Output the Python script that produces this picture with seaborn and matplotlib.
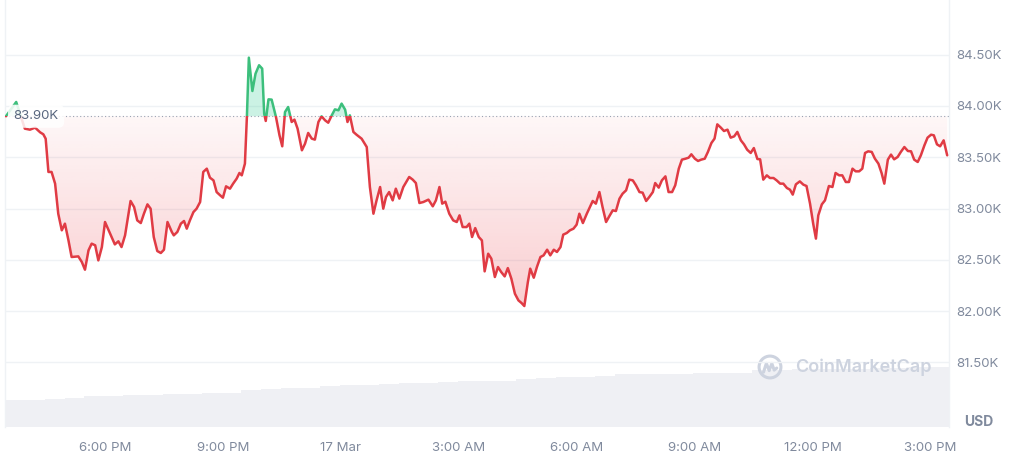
import numpy as np
import matplotlib
matplotlib.use("Agg")
import matplotlib.pyplot as plt
import seaborn as sns
from matplotlib.patches import Circle, Rectangle
from matplotlib.path import Path
from matplotlib.transforms import blended_transform_factory

# price series, hours counted from 16 Mar 00:00
hours = [15.48, 15.74, 15.96, 16.09, 16.22, 16.35, 16.43, 16.49, 16.56, 16.64,
         16.73, 16.81, 16.90, 16.98, 17.07, 17.15, 17.32, 17.41, 17.49, 17.58,
         17.66, 17.75, 17.83, 17.92, 18.00, 18.13, 18.25, 18.34, 18.42, 18.51,
         18.65, 18.74, 18.82, 18.91, 18.99, 19.08, 19.16, 19.24, 19.33, 19.42,
         19.50, 19.59, 19.70, 19.75, 19.84, 19.93, 20.01, 20.08, 20.16, 20.25,
         20.33, 20.42, 20.50, 20.59, 20.67, 20.76, 20.84, 20.93, 21.00, 21.08,
         21.18, 21.26, 21.35, 21.42, 21.48, 21.56, 21.61, 21.66, 21.75, 21.83,
         21.92, 22.00, 22.05, 22.09, 22.16, 22.24, 22.35, 22.44, 22.51, 22.58,
         22.66, 22.75, 22.82, 22.90, 23.01, 23.09, 23.17, 23.26, 23.34, 23.43,
         23.51, 23.60, 23.68, 23.77, 23.85, 23.94, 24.02, 24.11, 24.17, 24.23,
         24.32, 24.40, 24.53, 24.66, 24.74, 24.83, 24.91, 25.00, 25.08, 25.15,
         25.23, 25.32, 25.40, 25.49, 25.59, 25.74, 25.83, 25.91, 26.00, 26.10,
         26.23, 26.34, 26.42, 26.51, 26.58, 26.66, 26.76, 26.86, 26.95, 27.02,
         27.10, 27.20, 27.27, 27.34, 27.42, 27.51, 27.59, 27.66, 27.75, 27.83,
         27.92, 28.00, 28.08, 28.17, 28.25, 28.34, 28.43, 28.52, 28.60, 28.67,
         28.76, 28.82, 28.91, 28.99, 29.08, 29.16, 29.25, 29.33, 29.42, 29.50,
         29.59, 29.66, 29.75, 29.83, 29.92, 30.00, 30.07, 30.16, 30.26, 30.34,
         30.41, 30.49, 30.58, 30.66, 30.75, 30.83, 30.92, 31.00, 31.09, 31.17,
         31.26, 31.34, 31.43, 31.51, 31.60, 31.68, 31.77, 31.85, 31.94, 32.00,
         32.09, 32.17, 32.26, 32.34, 32.43, 32.51, 32.60, 32.68, 32.77, 32.85,
         32.92, 33.01, 33.09, 33.17, 33.26, 33.34, 33.43, 33.51, 33.58, 33.67,
         33.75, 33.84, 33.92, 34.01, 34.09, 34.18, 34.26, 34.34, 34.43, 34.51,
         34.60, 34.67, 34.75, 34.84, 34.92, 35.01, 35.09, 35.18, 35.26, 35.35,
         35.43, 35.50, 35.58, 35.68, 35.77, 35.85, 35.94, 36.02, 36.09, 36.15,
         36.24, 36.32, 36.42, 36.51, 36.59, 36.68, 36.76, 36.85, 36.93, 37.02,
         37.10, 37.19, 37.27, 37.34, 37.42, 37.51, 37.59, 37.68, 37.76, 37.83,
         37.92, 38.00, 38.08, 38.17, 38.25, 38.34, 38.43, 38.51, 38.59, 38.68,
         38.76, 38.85, 38.93, 39.02, 39.09, 39.17, 39.25, 39.34, 39.43]
prices = [83900, 84039, 83779, 83769, 83789, 83743, 83724, 83681, 83357, 83357,
          83243, 82950, 82788, 82853, 82690, 82528, 82534, 82479, 82404, 82593,
          82658, 82642, 82495, 82625, 82869, 82755, 82651, 82681, 82625, 82739,
          83074, 83015, 82885, 82859, 82950, 83041, 82999, 82723, 82586, 82567,
          82599, 82869, 82772, 82739, 82772, 82853, 82879, 82804, 82885, 82966,
          82999, 83064, 83357, 83389, 83301, 83275, 83161, 83129, 83106, 83217,
          83194, 83243, 83292, 83347, 83324, 83438, 83893, 84471, 84146, 84315,
          84397, 84364, 83925, 83854, 84065, 84062, 83893, 83714, 83607, 83941,
          83990, 83844, 83867, 83779, 83568, 83633, 83737, 83682, 83672, 83844,
          83899, 83860, 83837, 83909, 83967, 83958, 84023, 83964, 83844, 83909,
          83747, 83720, 83681, 83600, 83210, 82950, 83080, 83210, 82999, 83113,
          83161, 83080, 83194, 83097, 83210, 83308, 83282, 83249, 83054, 83064,
          83087, 83022, 83080, 83210, 83048, 83067, 82950, 82885, 82869, 82934,
          82820, 82820, 82853, 82723, 82810, 82723, 82690, 82388, 82560, 82512,
          82333, 82430, 82382, 82339, 82420, 82316, 82170, 82105, 82079, 82050,
          82284, 82414, 82326, 82430, 82528, 82544, 82599, 82544, 82599, 82577,
          82625, 82746, 82762, 82788, 82804, 82843, 82950, 82859, 82950, 83015,
          83074, 83048, 83161, 83015, 82869, 82924, 82983, 82976, 83096, 83145,
          83178, 83282, 83275, 83227, 83161, 83155, 83074, 83113, 83161, 83249,
          83204, 83275, 83314, 83161, 83161, 83227, 83389, 83477, 83486, 83496,
          83529, 83486, 83464, 83477, 83486, 83551, 83639, 83682, 83821, 83789,
          83756, 83769, 83691, 83704, 83747, 83665, 83626, 83574, 83542, 83590,
          83483, 83480, 83282, 83324, 83298, 83298, 83275, 83243, 83243, 83201,
          83184, 83136, 83236, 83265, 83233, 83220, 83048, 82853, 82707, 82934,
          83041, 83080, 83220, 83210, 83347, 83324, 83324, 83259, 83259, 83389,
          83363, 83363, 83389, 83542, 83558, 83552, 83487, 83438, 83347, 83243,
          83477, 83526, 83480, 83503, 83552, 83600, 83561, 83558, 83477, 83454,
          83519, 83616, 83691, 83720, 83714, 83626, 83607, 83665, 83519]

# volume bars (half-hour buckets, billions USD)
vol_hours = [15.72, 16.22, 16.72, 17.22, 17.72, 18.22, 18.72, 19.22, 19.72, 20.22,
             20.72, 21.22, 21.72, 22.22, 22.72, 23.22, 23.72, 24.22, 24.72, 25.22,
             25.72, 26.22, 26.72, 27.22, 27.72, 28.22, 28.72, 29.22, 29.72, 30.22,
             30.72, 31.22, 31.72, 32.22, 32.72, 33.22, 33.72, 34.22, 34.72, 35.22,
             35.72, 36.22, 36.72, 37.22, 37.72, 38.22, 38.72, 39.22]
volume = [10.1, 10.1, 10.5, 10.9, 11.6, 11.6, 12.0, 12.0, 12.2, 12.4,
          12.6, 12.6, 13.9, 14.2, 14.7, 14.7, 15.4, 15.7, 15.7, 16.1,
          16.6, 16.6, 16.9, 17.2, 17.2, 17.4, 17.9, 18.4, 18.8, 18.8,
          19.1, 19.7, 19.7, 19.7, 19.7, 20.2, 20.3, 20.3, 21.3, 21.5,
          21.7, 21.7, 21.9, 21.9, 22.1, 22.1, 22.3, 22.5]

base_price = 83900
price_ticks = [81500, 82000, 82500, 83000, 83500, 84000, 84500]
tick_hours = [18, 21, 24, 27, 30, 33, 36, 39]
tick_labels = ["6:00 PM", "9:00 PM", "17 Mar", "3:00 AM",
               "6:00 AM", "9:00 AM", "12:00 PM", "3:00 PM"]

RED = "#e03b44"
GREEN = "#3cbf7c"
GRAY = "#808a9d"
GRID = "#eff2f5"

sns.set_style("white")
plt.rcParams["font.family"] = ["Inter", "DejaVu Sans"]

xlim = (15.455, 39.476)
ylim = (80871, 85033)

fig = plt.figure(figsize=(10.24, 4.63), dpi=100)
pos = [5 / 1024, 36 / 463, 944 / 1024, 427 / 463]

# volume layer
axv = fig.add_axes(pos)
axv.bar(vol_hours, volume, width=0.5, color="#eff0f4", linewidth=0)
axv.set_xlim(xlim)
axv.set_ylim(0, 160)
axv.axis("off")

ax = fig.add_axes(pos)
ax.set_zorder(axv.get_zorder() + 1)
ax.patch.set_alpha(0)

p = np.array(prices)
h = np.array(hours)

# fills
ax.fill_between(h, p, base_price, where=p >= base_price, interpolate=True,
                color="#16c784", alpha=0.22, linewidth=0, zorder=2)
poly = ax.fill_between(h, p, base_price, where=p <= base_price, interpolate=True,
                       facecolor="none", linewidth=0)
clip = Path.make_compound_path(*poly.get_paths())
ny = 256
yy = np.linspace(ylim[0], base_price, ny)
alpha = np.clip(0.04 + (base_price - yy) / 1850 * 0.21, 0, 0.32)
img = np.zeros((ny, 2, 4))
img[..., 0] = 0xea / 255
img[..., 1] = 0x39 / 255
img[..., 2] = 0x43 / 255
img[..., 3] = alpha[:, None]
im = ax.imshow(img, extent=[xlim[0], xlim[1], ylim[0], base_price],
               origin="lower", aspect="auto", zorder=2, interpolation="bilinear")
im.set_clip_path(clip, ax.transData)

# price line, red below the open price and green above it
sns.lineplot(x=hours, y=prices, ax=ax, color=RED, linewidth=1.8, zorder=4)
red_line = ax.lines[-1]
red_line.set_clip_path(Rectangle((xlim[0], ylim[0]), xlim[1] - xlim[0],
                                 base_price - ylim[0], transform=ax.transData))
sns.lineplot(x=hours, y=prices, ax=ax, color=GREEN, linewidth=1.8, zorder=4)
green_line = ax.lines[-1]
green_line.set_clip_path(Rectangle((xlim[0], base_price), xlim[1] - xlim[0],
                                   ylim[1] - base_price, transform=ax.transData))

ax.axhline(base_price, color="#9aa3b2", linewidth=0.8, linestyle=(0, (1, 2.2)), zorder=3)

ax.set_xlim(xlim)
ax.set_ylim(ylim)
ax.set_xlabel("")
ax.set_ylabel("")

ax.set_yticks(price_ticks)
ax.set_yticklabels([f"{v / 1000:.2f}K" for v in price_ticks])
ax.yaxis.tick_right()
ax.set_xticks(tick_hours)
ax.set_xticklabels(tick_labels)
ax.tick_params(axis="y", length=0, pad=5, labelsize=9.5, labelcolor=GRAY)
ax.tick_params(axis="x", length=0, pad=11, labelsize=9.5, labelcolor=GRAY)
ax.grid(axis="y", color=GRID, linewidth=1)
ax.grid(axis="x", visible=False)
for side in ["top", "bottom"]:
    ax.spines[side].set_visible(False)
for side in ["left", "right"]:
    ax.spines[side].set_color(GRID)
    ax.spines[side].set_linewidth(1)

# open price tag
tr = blended_transform_factory(ax.transAxes, ax.transData)
ax.text(0.009, base_price, f"{base_price / 1000:.2f}K", transform=tr,
        ha="left", va="center", fontsize=9.5, color="#58667e", zorder=6,
        bbox=dict(boxstyle="round,pad=0.42,rounding_size=0.45", fc="white",
                  ec="none", alpha=0.85))

fig.text(979 / 1024, 1 - 422 / 463, "USD", ha="center", va="center",
         fontsize=10, fontweight="bold", color=GRAY)

# watermark
lax = fig.add_axes([757 / 1024, (463 - 380) / 463, 26 / 1024, 26 / 463])
lax.set_xlim(0, 1)
lax.set_ylim(0, 1)
lax.axis("off")
lax.add_patch(Circle((0.5, 0.5), 0.42, fill=False, lw=2.2, ec="#cdd3df"))
lax.plot([0.25, 0.36, 0.47, 0.57, 0.66, 0.76], [0.3, 0.64, 0.36, 0.64, 0.38, 0.46],
         color="#cdd3df", lw=2.2, solid_capstyle="round", solid_joinstyle="round")
fig.text(795 / 1024, 1 - 367 / 463, "CoinMarketCap", ha="left", va="center",
         fontsize=13, fontweight="semibold", color="#cdd3df")

fig.savefig("out.png", dpi=100)
